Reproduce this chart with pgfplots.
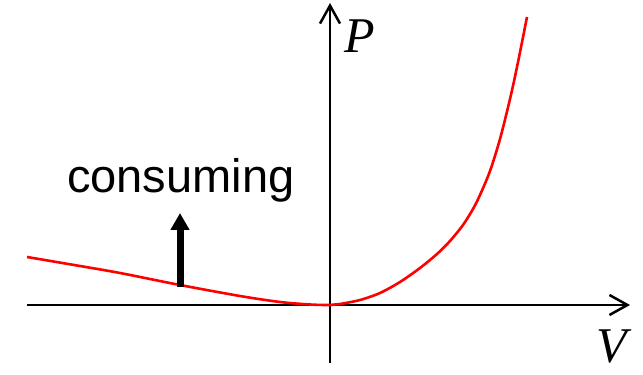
\documentclass[border=0pt]{standalone}
\usepackage{pgfplots}
\pgfplotsset{compat=1.18}
\usepackage{fontspec}
\setmainfont{Liberation Sans}
\newfontfamily\serif{Liberation Serif}
\usetikzlibrary{arrows.meta}
\begin{document}
\begin{tikzpicture}
\begin{axis}[
  x=1pt, y=1pt,
  axis lines=middle,
  xmin=-303, xmax=300, ymin=-58, ymax=302,
  xtick=\empty, ytick=\empty,
  axis line style={line width=2.5pt, black, -{Straight Barb[length=18pt,width=20pt,line width=2.5pt]}},
  clip=false,
]
\path[use as bounding box] (axis cs:-330,-70) rectangle (axis cs:313,305);
\addplot[red, line width=2.6pt, smooth] coordinates {
(-303,48) (-250,39) (-210,32) (-150,20) (-90,9) (-50,3) (-20,0.5) (0,0)
(10,1) (30,5) (50,12) (70,23) (90,37) (107,51) (120,64) (133,80)
(143,96) (150,110) (160,134) (170,166) (180,206) (187,238) (197,288)
};
\draw[line width=7pt, -{Triangle[length=17pt,width=18pt]}] (axis cs:-150,18) -- (axis cs:-150,92);
\node[anchor=base west, inner sep=0pt, font=\fontsize{47}{50}\selectfont] at (axis cs:-263,112) {consuming};
\node[anchor=base west, inner sep=0pt, font=\serif\itshape\fontsize{50}{55}\selectfont] at (axis cs:14,252) {P};
\node[anchor=base west, inner sep=0pt, font=\serif\itshape\fontsize{50}{55}\selectfont] at (axis cs:266,-58) {V};
\end{axis}
\end{tikzpicture}
\end{document}
